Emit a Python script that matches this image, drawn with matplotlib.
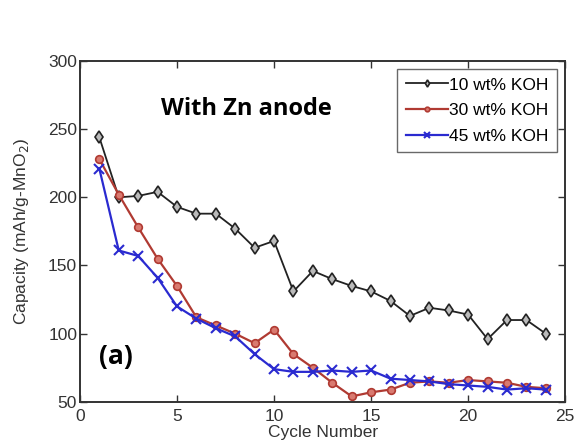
import numpy as np
import matplotlib
matplotlib.use("Agg")
import matplotlib.pyplot as plt

plt.rcParams['font.family'] = ['Liberation Sans', 'DejaVu Sans']

cycles = np.arange(1, 25)
koh_10 = [244, 200, 201, 204, 193, 188, 188, 177, 163, 168, 131, 146,
          140, 135, 131, 124, 113, 119, 117, 114, 96, 110, 110, 100]
koh_30 = [228, 202, 178, 155, 135, 112, 106, 100, 93, 103, 85, 75,
          64, 54, 57, 59, 64, 65, 64, 66, 65, 64, 61, 60]
koh_45 = [221, 161, 157, 141, 120, 111, 104, 98, 85, 74, 72, 72,
          73, 72, 73, 67, 66, 65, 63, 62, 61, 59, 60, 59]
labels = ['10 wt% KOH', '30 wt% KOH', '45 wt% KOH']

fig = plt.figure(figsize=(5.75, 4.48), dpi=100)
ax = fig.add_axes([0.139, 0.103, 0.844, 0.761])

ax.plot(cycles, koh_10, color='#222222', lw=1.3, marker='d', ms=6,
        mfc='#bbbbbb', mec='#222222', mew=1.2, label=labels[0])
ax.plot(cycles, koh_30, color='#b03a32', lw=1.6, marker='o', ms=5.5,
        mfc='#d97a70', mec='#b03a32', mew=1.2, label=labels[1])
ax.plot(cycles, koh_45, color='#2a2ad0', lw=1.6, marker='x', ms=7,
        mew=1.5, label=labels[2])

ax.set_xlim(0, 25)
ax.set_ylim(50, 300)
ax.set_xticks([0, 5, 10, 15, 20, 25])
ax.set_yticks([50, 100, 150, 200, 250, 300])
ax.tick_params(direction='in', top=True, right=True, labelsize=12.5,
               length=5, width=1, colors='#333333', labelcolor='#333333')
ax.tick_params(axis='x', pad=5)
ax.tick_params(axis='y', pad=2)
for s in ax.spines.values():
    s.set_linewidth(1.4)
    s.set_color('#333333')

ax.set_xlabel('Cycle Number', fontsize=12.5, color='#333333', labelpad=1)
ax.set_ylabel('Capacity (mAh/g-MnO$_2$)', fontsize=12.5, color='#333333', labelpad=12)

ax.text(4.2, 265, 'With Zn anode', fontsize=17, fontweight='bold',
        family=['Open Sans', 'DejaVu Sans'], va='center')
ax.text(1.0, 83, '(a)', fontsize=19, fontweight='bold',
        family=['Open Sans', 'DejaVu Sans'], va='center')

leg = ax.legend(loc='upper right', fontsize=12.5, frameon=True, fancybox=False,
                edgecolor='#444444', handlelength=2.4, handletextpad=0.1,
                borderpad=0.5, labelspacing=0.6, markerscale=0.6,
                borderaxespad=0.45)
leg.get_frame().set_linewidth(1.0)

fig.savefig('out.png', dpi=100)
